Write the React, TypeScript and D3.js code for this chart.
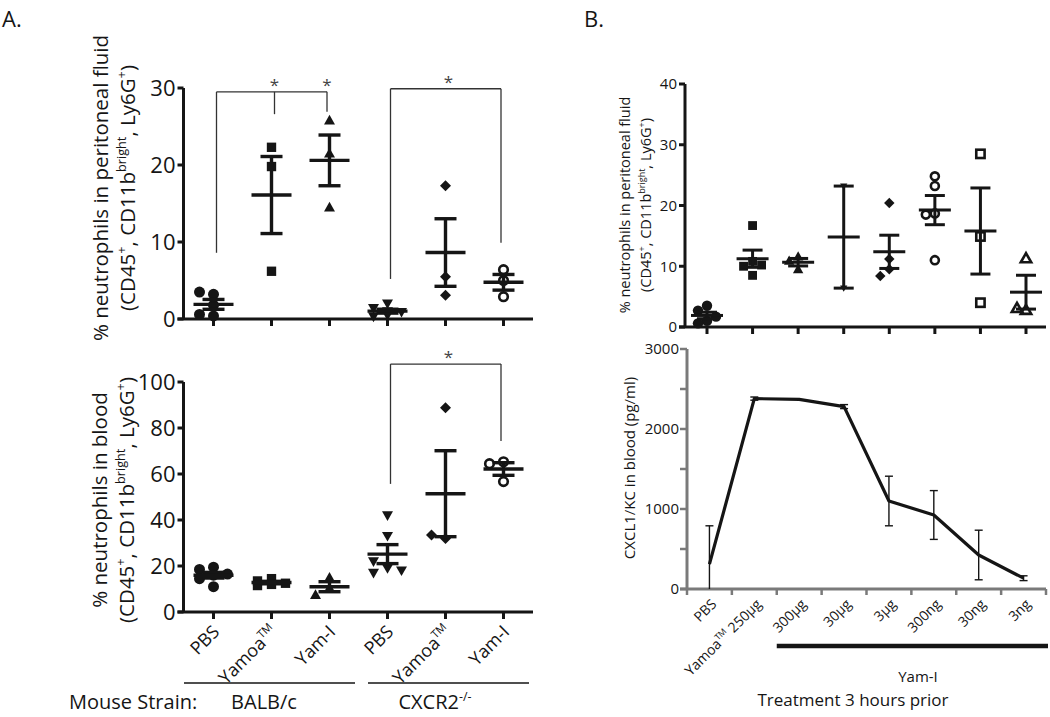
import React from 'react';
import * as d3 from 'd3';

const FONT = "'Open Sans', 'Noto Sans', sans-serif";
const INK = '#151515';
const GREY_AXIS = '#7a7a7a';

// ---------------- Panel A data ----------------
const aGroups = ['BALB/c PBS', 'BALB/c Yamoa', 'BALB/c Yam-I', 'CXCR2 PBS', 'CXCR2 Yamoa', 'CXCR2 Yam-I'];
const aTickMain = ['PBS', 'Yamoa', 'Yam-I', 'PBS', 'Yamoa', 'Yam-I'];
const aTickSup = ['', 'TM', '', '', 'TM', ''];
const aMarkers = ['circle', 'square', 'triangle', 'triangleDown', 'diamond', 'circleOpen'];
const aPeritonealFluid: number[][] = [
  [3.2, 3.5, 0.4, 0.6, 1.8],
  [22.3, 19.8, 6.2],
  [25.8, 21.5, 14.5],
  [2.0, 1.4, 0.9, 0.5, 0.3, 1.0],
  [17.3, 5.5, 3.1],
  [6.4, 5.0, 2.9],
];
const aBlood: number[][] = [
  [19.5, 18.5, 16.5, 16.0, 11.0, 14.5],
  [14.5, 13.5, 12.5, 12.0, 11.5],
  [15.0, 10.5, 7.5],
  [42.0, 33.0, 19.0, 17.0, 18.0, 22.0],
  [88.8, 32.0, 33.5],
  [65.3, 64.5, 56.7],
];
const aPeritonealTicks = [0, 10, 20, 30];
const aBloodTicks = [0, 20, 40, 60, 80, 100];
const strainLabels = ['BALB/c', 'CXCR2'];

// significance brackets
const aPeritonealBrackets = [
  { from: 0, to: 2, level: 29.5, legs: [[0, 8.6], [1, 26.6], [2, 26.9]], stars: [1, 2] },
  { from: 3, to: 5, level: 29.9, legs: [[3, 5.2], [5, 9.9]], stars: [4] },
];
const aBloodBrackets = [
  { from: 3, to: 5, level: 107.8, legs: [[3, 55.7], [5, 74.3]], stars: [4] },
];

// ---------------- Panel B data ----------------
const bGroups = ['PBS', 'Yamoa 250µg', '300µg', '30µg', '3µg', '300ng', '30ng', '3ng'];
const bMarkers = ['circle', 'square', 'triangle', 'triangleDownSmall', 'diamond', 'circleOpen', 'squareOpen', 'triangleOpen'];
const bPeritonealFluid: number[][] = [
  [3.5, 2.7, 1.0, 0.6, 1.7],
  [16.7, 10.8, 10.0, 10.2, 8.5],
  [11.6, 10.9, 9.5],
  [23.2, 6.4],
  [20.4, 11.2, 9.5, 8.4],
  [24.8, 23.2, 18.7, 18.5, 11.0],
  [28.5, 14.9, 4.0],
  [11.3, 2.8, 3.1],
];
const bPeritonealTicks = [0, 10, 20, 30, 40];
const bCxcl1Mean = [310, 2380, 2370, 2280, 1100, 925, 425, 135];
const bCxcl1Err = [480, 20, 0, 25, 310, 305, 310, 30];
const bCxcl1Ticks = [0, 500, 1000, 1500, 2000, 2500, 3000];

// ---------------- helpers ----------------
function Marker({ type, x, y, r }: { type: string; x: number; y: number; r: number }) {
  const p = (pts: number[][]) => 'M' + pts.map((q) => q.join(',')).join('L') + 'Z';
  switch (type) {
    case 'circle':
      return <circle cx={x} cy={y} r={r} fill={INK} />;
    case 'circleOpen':
      return <circle cx={x} cy={y} r={r - 1.2} fill="#fff" stroke={INK} strokeWidth={2.6} />;
    case 'square':
      return <rect x={x - r * 0.85} y={y - r * 0.85} width={r * 1.7} height={r * 1.7} fill={INK} />;
    case 'squareOpen':
      return <rect x={x - r * 0.8} y={y - r * 0.8} width={r * 1.6} height={r * 1.6} fill="#fff" stroke={INK} strokeWidth={2.6} />;
    case 'triangle':
      return <path d={p([[x, y - r], [x + r, y + r * 0.75], [x - r, y + r * 0.75]])} fill={INK} />;
    case 'triangleOpen':
      return <path d={p([[x, y - r], [x + r, y + r * 0.75], [x - r, y + r * 0.75]])} fill="#fff" stroke={INK} strokeWidth={2.6} strokeLinejoin="miter" />;
    case 'triangleDown':
      return <path d={p([[x, y + r], [x + r, y - r * 0.75], [x - r, y - r * 0.75]])} fill={INK} />;
    case 'triangleDownSmall':
      return <path d={p([[x, y + r * 0.7], [x + r * 0.7, y - r * 0.5], [x - r * 0.7, y - r * 0.5]])} fill={INK} />;
    case 'diamond':
      return <path d={p([[x, y - r], [x + r, y], [x, y + r], [x - r, y]])} fill={INK} />;
    default:
      return null;
  }
}

// simple swarm: spread overlapping points over three columns at most
function beeswarm(values: number[], y: (v: number) => number, step: number, minDist: number) {
  const placed: { x: number; y: number }[] = [];
  return values.map((v) => {
    const py = y(v);
    const cands = [0, -step, step];
    let best = 0;
    let bestD = -1;
    for (const c of cands) {
      const d = placed.length ? Math.min(...placed.map((q) => Math.hypot(q.x - c, q.y - py))) : Infinity;
      if (d >= minDist) {
        best = c;
        bestD = d;
        break;
      }
      if (d > bestD) {
        bestD = d;
        best = c;
      }
    }
    placed.push({ x: best, y: py });
    return { dx: best, y: py };
  });
}

function stats(vals: number[]) {
  const m = d3.mean(vals) as number;
  const sd = (d3.deviation(vals) as number) || 0;
  return { mean: m, sem: sd / Math.sqrt(vals.length) };
}

type ScatterProps = {
  data: number[][];
  markers: string[];
  x: d3.ScalePoint<string>;
  groups: string[];
  y: d3.ScaleLinear<number, number>;
  ticks: number[];
  axisLeft: number;
  axisRight: number;
  tickFont: number;
  r: number;
  step: number;
  meanHalf: number;
  capHalf: number;
  sw: number;
  axisW: number;
};

function Scatter(props: ScatterProps) {
  const { data, markers, x, groups, y, ticks, axisLeft, axisRight, tickFont, r, step, meanHalf, capHalf, sw, axisW } = props;
  const y0 = y(0);
  const yTop = y(ticks[ticks.length - 1]);
  return (
    <g>
      <line x1={axisLeft} x2={axisLeft} y1={yTop} y2={y0} stroke={INK} strokeWidth={axisW} />
      <line x1={axisLeft - 6} x2={axisRight} y1={y0} y2={y0} stroke={INK} strokeWidth={axisW} />
      {ticks.map((t) => (
        <g key={t}>
          <line x1={axisLeft - 6} x2={axisLeft} y1={y(t)} y2={y(t)} stroke={INK} strokeWidth={axisW} />
          <text x={axisLeft - 8} y={y(t)} dy="0.35em" textAnchor="end" fontSize={tickFont} fill={INK}>
            {t}
          </text>
        </g>
      ))}
      {groups.map((g) => (
        <line key={g} x1={x(g)} x2={x(g)} y1={y0} y2={y0 + 7} stroke={INK} strokeWidth={axisW} />
      ))}
      {data.map((vals, i) => {
        const cx = x(groups[i]) as number;
        const pos = beeswarm(vals, y, step, r * 1.8);
        return (
          <g key={'p' + i}>
            {pos.map((p, j) => (
              <Marker key={j} type={markers[i]} x={cx + p.dx} y={p.y} r={r} />
            ))}
          </g>
        );
      })}
      {data.map((vals, i) => {
        const cx = x(groups[i]) as number;
        const s = stats(vals);
        const hi = y(s.mean + s.sem);
        const lo = y(Math.max(0, s.mean - s.sem));
        return (
          <g key={'e' + i} stroke={INK} strokeWidth={sw}>
            <line x1={cx} x2={cx} y1={hi} y2={lo} />
            <line x1={cx - capHalf} x2={cx + capHalf} y1={hi} y2={hi} />
            <line x1={cx - capHalf} x2={cx + capHalf} y1={lo} y2={lo} />
            <line x1={cx - meanHalf} x2={cx + meanHalf} y1={y(s.mean)} y2={y(s.mean)} />
          </g>
        );
      })}
    </g>
  );
}

function Brackets({
  brackets,
  x,
  groups,
  y,
}: {
  brackets: { from: number; to: number; level: number; legs: number[][]; stars: number[] }[];
  x: d3.ScalePoint<string>;
  groups: string[];
  y: d3.ScaleLinear<number, number>;
}) {
  return (
    <g>
      {brackets.map((b, i) => {
        const ly = y(b.level);
        const x1 = (x(groups[b.from]) as number) + 3;
        const x2 = (x(groups[b.to]) as number) - 2.5;
        const legX = (gi: number) => (gi === b.from ? x1 : gi === b.to ? x2 : (x(groups[gi]) as number) + 3);
        return (
          <g key={i}>
            <line x1={x1} x2={x2} y1={ly} y2={ly} stroke="#333" strokeWidth={1.3} />
            {b.legs.map(([gi, v], k) => (
              <line key={k} x1={legX(gi)} x2={legX(gi)} y1={ly} y2={y(v)} stroke="#333" strokeWidth={1.3} />
            ))}
            {b.stars.map((gi) => (
              <text key={gi} x={legX(gi)} y={ly - 1} textAnchor="middle" fontSize={17} fill="#444">
                *
              </text>
            ))}
          </g>
        );
      })}
    </g>
  );
}

function SupLine({ parts, fontSize }: { parts: [string, string][]; fontSize: number }) {
  const out: React.ReactNode[] = [];
  let shifted = false;
  parts.forEach(([t, kind], i) => {
    if (kind === 'sup') {
      out.push(
        <tspan key={i} dy={shifted ? 0 : -fontSize * 0.42} fontSize={fontSize * 0.62}>
          {t}
        </tspan>
      );
      shifted = true;
    } else {
      out.push(
        <tspan key={i} dy={shifted ? fontSize * 0.42 : 0} fontSize={fontSize}>
          {t}
        </tspan>
      );
      shifted = false;
    }
  });
  return <>{out}</>;
}

const markerLine: [string, string][] = [
  ['(CD45', 'n'],
  ['+', 'sup'],
  [', CD11b', 'n'],
  ['bright', 'sup'],
  [', Ly6G', 'n'],
  ['+', 'sup'],
  [')', 'n'],
];

export default function App() {
  const ax = d3.scalePoint<string>().domain(aGroups).range([213.5, 503.5]);
  const ayTop = d3.scaleLinear().domain([0, 30]).range([319, 88]);
  const ayBot = d3.scaleLinear().domain([0, 100]).range([612, 382]);
  const bx = d3.scalePoint<string>().domain(bGroups).range([707, 1026]);
  const byTop = d3.scaleLinear().domain([0, 40]).range([327, 84]);
  const bxb = d3.scaleBand<string>().domain(bGroups).range([687, 1046]);
  const byBot = d3.scaleLinear().domain([0, 3000]).range([589, 349]);

  const line = d3
    .line<number>()
    .x((_, i) => (bxb(bGroups[i]) as number) + bxb.bandwidth() / 2)
    .y((d) => byBot(d));

  const tickBoundaries = [...bGroups.map((g) => bxb(g) as number), bxb.range()[1]];

  const aAxisLeft = 183.5;
  const aAxisRight = 533;

  return (
    <svg
      width={1050}
      height={717}
      style={{ position: 'absolute', left: 0, top: 0, background: '#fff' }}
      fontFamily={FONT}
    >
      <rect width={1050} height={717} fill="#fff" />
      <text x={2} y={27} fontSize={22} fill={INK}>A.</text>
      <text x={584} y={27} fontSize={22} fill={INK}>B.</text>

      {/* ---------- A top ---------- */}
      <Scatter
        data={aPeritonealFluid}
        markers={aMarkers}
        x={ax}
        groups={aGroups}
        y={ayTop}
        ticks={aPeritonealTicks}
        axisLeft={aAxisLeft}
        axisRight={aAxisRight}
        tickFont={22}
        r={5.5}
        step={14}
        meanHalf={20}
        capHalf={11}
        sw={3.4}
        axisW={3}
      />
      <Brackets brackets={aPeritonealBrackets} x={ax} groups={aGroups} y={ayTop} />
      <text transform="translate(108,188) rotate(-90)" textAnchor="middle" fontSize={20.5} fill={INK}>
        % neutrophils in peritoneal fluid
      </text>
      <text transform="translate(135,188) rotate(-90)" textAnchor="middle" fill={INK}>
        <SupLine parts={markerLine} fontSize={20.5} />
      </text>

      {/* ---------- A bottom ---------- */}
      <Scatter
        data={aBlood}
        markers={aMarkers}
        x={ax}
        groups={aGroups}
        y={ayBot}
        ticks={aBloodTicks}
        axisLeft={aAxisLeft}
        axisRight={aAxisRight}
        tickFont={22}
        r={5.5}
        step={14}
        meanHalf={20}
        capHalf={11}
        sw={3.4}
        axisW={3}
      />
      <Brackets brackets={aBloodBrackets} x={ax} groups={aGroups} y={ayBot} />
      <text transform="translate(107,500) rotate(-90)" textAnchor="middle" fontSize={20.5} fill={INK}>
        % neutrophils in blood
      </text>
      <text transform="translate(134,500) rotate(-90)" textAnchor="middle" fill={INK}>
        <SupLine parts={markerLine} fontSize={20.5} />
      </text>
      {aGroups.map((g, i) => (
        <text
          key={g}
          transform={`translate(${(ax(g) as number) + 7},${633}) rotate(-45)`}
          textAnchor="end"
          fill={INK}
        >
          <SupLine parts={aTickSup[i] ? [[aTickMain[i], 'n'], [aTickSup[i], 'sup']] : [[aTickMain[i], 'n']]} fontSize={18} />
        </text>
      ))}
      <line x1={184} x2={355} y1={683} y2={683} stroke={INK} strokeWidth={1.6} />
      <line x1={368} x2={529} y1={683} y2={683} stroke={INK} strokeWidth={1.6} />
      <text x={69} y={709} fontSize={20} fill={INK}>Mouse Strain:</text>
      <text x={264} y={709} fontSize={20} textAnchor="middle" fill={INK}>{strainLabels[0]}</text>
      <text x={435} y={709} textAnchor="middle" fill={INK}>
        <SupLine parts={[[strainLabels[1], 'n'], ['-/-', 'sup']]} fontSize={20} />
      </text>

      {/* ---------- B top ---------- */}
      <Scatter
        data={bPeritonealFluid}
        markers={bMarkers}
        x={bx}
        groups={bGroups}
        y={byTop}
        ticks={bPeritonealTicks}
        axisLeft={685}
        axisRight={1046}
        tickFont={15}
        r={5.2}
        step={9}
        meanHalf={16}
        capHalf={10}
        sw={3}
        axisW={3}
      />
      <text transform="translate(630,205) rotate(-90)" textAnchor="middle" fontSize={14.5} fill={INK}>
        % neutrophils in peritoneal fluid
      </text>
      <text transform="translate(651,205) rotate(-90)" textAnchor="middle" fill={INK}>
        <SupLine parts={markerLine} fontSize={14.5} />
      </text>

      {/* ---------- B bottom ---------- */}
      <g>
        <line x1={687} x2={687} y1={byBot(3000)} y2={byBot(0)} stroke={GREY_AXIS} strokeWidth={3} />
        <line x1={680} x2={1046} y1={byBot(0)} y2={byBot(0)} stroke={GREY_AXIS} strokeWidth={3} />
        {bCxcl1Ticks.map((t) => (
          <g key={t}>
            <line x1={680} x2={687} y1={byBot(t)} y2={byBot(t)} stroke={GREY_AXIS} strokeWidth={2.5} />
            {t % 1000 === 0 && (
              <text x={679} y={byBot(t)} dy="0.35em" textAnchor="end" fontSize={15} fill={INK}>
                {t}
              </text>
            )}
          </g>
        ))}
        {tickBoundaries.map((b, i) => (
          <line key={i} x1={b} x2={b} y1={byBot(0)} y2={byBot(0) + 6} stroke={GREY_AXIS} strokeWidth={2.5} />
        ))}
        {bCxcl1Mean.map((m, i) => {
          const cx = (bxb(bGroups[i]) as number) + bxb.bandwidth() / 2;
          const e = bCxcl1Err[i];
          if (!e) return null;
          const hi = byBot(m + e);
          const loV = m - e;
          const lo = byBot(Math.max(0, loV));
          return (
            <g key={i} stroke={INK} strokeWidth={1.4}>
              <line x1={cx} x2={cx} y1={hi} y2={lo} />
              <line x1={cx - 4} x2={cx + 4} y1={hi} y2={hi} />
              {loV >= 0 && <line x1={cx - 4} x2={cx + 4} y1={lo} y2={lo} />}
            </g>
          );
        })}
        <path d={line(bCxcl1Mean) || ''} fill="none" stroke={INK} strokeWidth={3.2} strokeLinejoin="round" />
        <text transform="translate(635,468) rotate(-90)" textAnchor="middle" fontSize={15} fill={INK}>
          CXCL1/KC in blood (pg/ml)
        </text>
        {bGroups.map((g, i) => {
          const cx = (bxb(g) as number) + bxb.bandwidth() / 2;
          return (
            <text key={g} transform={`translate(${cx + 8},${605}) rotate(-45)`} textAnchor="end" fill={INK}>
              {i === 1 ? (
                <SupLine parts={[['Yamoa', 'n'], ['TM', 'sup'], [' 250µg', 'n']]} fontSize={14} />
              ) : (
                <tspan fontSize={14}>{g}</tspan>
              )}
            </text>
          );
        })}
        <line x1={bxb(bGroups[2]) as number} x2={1048} y1={646} y2={646} stroke={INK} strokeWidth={4.5} />
        <text x={918} y={682} textAnchor="middle" fontSize={15} fill={INK}>Yam-I</text>
        <text x={853} y={706} textAnchor="middle" fontSize={17} fill={INK}>Treatment 3 hours prior</text>
      </g>
    </svg>
  );
}
